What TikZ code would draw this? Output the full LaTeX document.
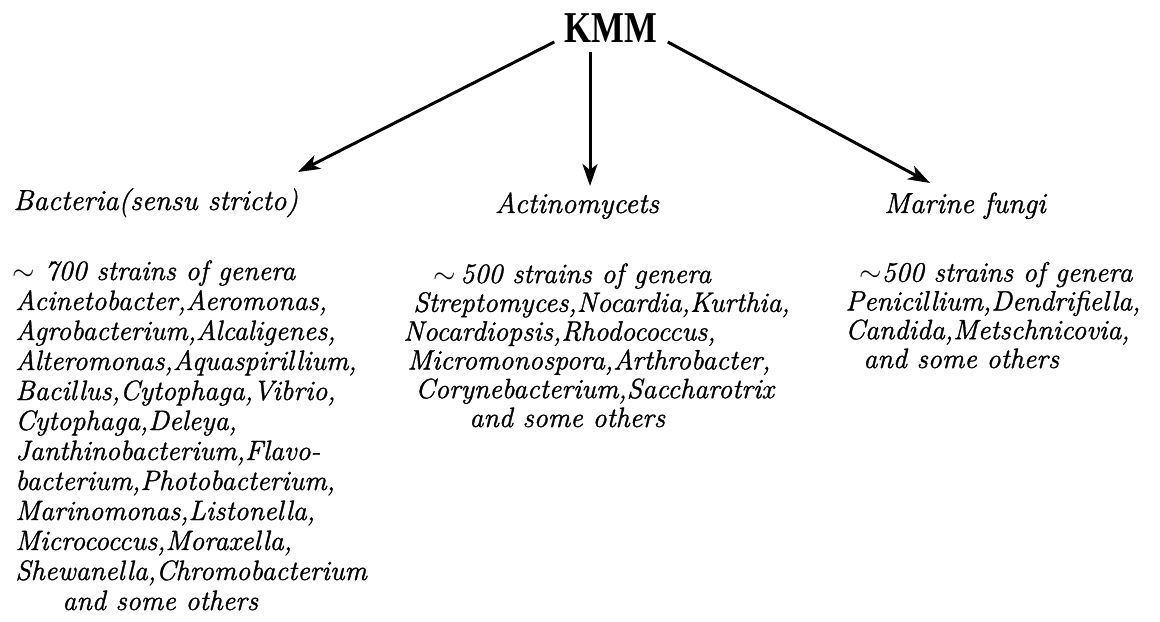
\documentclass[tikz,border=0pt]{standalone}
\usepackage{fontspec}
\usepackage{tikz}
\usetikzlibrary{arrows.meta}
\setmainfont{Latin Modern Roman}[ItalicFeatures={FakeBold=1.2}]
\newfontfamily\rootfont{Liberation Serif}

\begin{document}
\begin{tikzpicture}[
    x=0.5pt, y=-0.5pt,
    root/.style={inner sep=5pt, font=\rootfont\fontsize{22}{24}\selectfont\bfseries},
    group/.style={inner sep=0pt, font=\fontsize{14.5}{15}\selectfont\itshape},
    strains/.style={inner sep=0pt, align=left, font=\fontsize{14}{15}\selectfont\itshape},
    link/.style={-{Stealth[length=11pt,width=7.5pt,inset=3pt]}, line width=1.5pt}
  ]
  \useasboundingbox (0,0) rectangle (1160,621);

  % root
  \node[root, anchor=base] (kmm) at (611,42) {\scalebox{0.79}[1]{KMM}};

  % groups
  \node[group, anchor=base west] (bac) at (13,210) {Bacteria(sensu stricto)};
  \node[group, anchor=base] (act) at (577,213) {Actinomycets};
  \node[group, anchor=base] (fun) at (965,213) {Marine fungi};

  % arrow tips
  \coordinate (bacTip) at (298,172);
  \coordinate (actTip) at (590,186);
  \coordinate (funTip) at (930,183);
  \draw[link] (kmm.base west) -- (bacTip);
  \draw[link] (kmm.south -| actTip) -- (actTip);
  \draw[link] (kmm.base east) -- (funTip);

  % strain lists (anchored at the last line)
  \node[strains, anchor=base west] (bacList) at (12,610) {%
    $\sim$ 700 strains of genera\\
    \hspace*{1.5pt}Acinetobacter,Aeromonas,\\
    \hspace*{1.5pt}Agrobacterium,Alcaligenes,\\
    \hspace*{1.5pt}Alteromonas,Aquaspirillium,\\
    \hspace*{1.5pt}Bacillus,Cytophaga,Vibrio,\\
    \hspace*{1.5pt}Cytophaga,Deleya,\\
    \hspace*{1.5pt}Janthinobacterium,Flavo-\\
    \hspace*{1.5pt}bacterium,Photobacterium,\\
    \hspace*{1.5pt}Marinomonas,Listonella,\\
    \hspace*{1.5pt}Micrococcus,Moraxella,\\
    \hspace*{1.5pt}Shewanella,Chromobacterium\\
    \hspace*{25pt}and some others};
  \node[strains, anchor=base west, font=\fontsize{14}{14.4}\selectfont\itshape] (actList) at (403,427) {%
    \hspace*{15pt}$\sim$\,500 strains of genera\\
    \hspace*{5pt}Streptomyces,Nocardia,Kurthia,\\
    Nocardiopsis,Rhodococcus,\\
    \hspace*{2pt}Micromonospora,Arthrobacter,\\
    \hspace*{6pt}Corynebacterium,Saccharotrix\\
    \hspace*{33pt}and some others};
  \node[strains, anchor=base west, font=\fontsize{14}{14.4}\selectfont\itshape] (funList) at (845,368) {%
    \hspace*{7pt}$\sim$500 strains of genera\\
    Penicillium,Dendrifiella,\\
    Candida,Metschnicovia,\\
    \hspace*{9pt}and some others};
\end{tikzpicture}
\end{document}
